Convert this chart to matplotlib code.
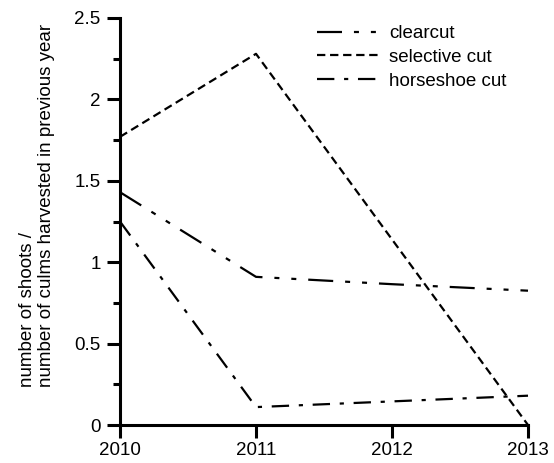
import matplotlib
matplotlib.use("Agg")
import matplotlib.pyplot as plt
from matplotlib.ticker import FixedLocator, FuncFormatter, MultipleLocator

plt.rcParams["font.family"] = ["Liberation Sans", "DejaVu Sans"]
plt.rcParams["lines.scale_dashes"] = False

years = [2010, 2011, 2012, 2013]
clearcut = [1.43, 0.91, 0.865, 0.825]
selective_cut = [1.77, 2.28, 1.14, 0.0]
horseshoe_cut = [1.25, 0.11, 0.145, 0.18]

fs = 13.5
fig = plt.figure(figsize=(5.54, 4.63), dpi=100)
ax = fig.add_axes([120 / 554, 1 - 425 / 463, 408 / 554, 407 / 463])

lw = 1.6
ax.plot(years, clearcut, color="black", lw=lw, dashes=(18, 8.6, 3.6, 8.6, 3.6, 8.6), label="clearcut")
ax.plot(years, selective_cut, color="black", lw=lw, dashes=(6, 3.4), label="selective cut")
ax.plot(years, horseshoe_cut, color="black", lw=lw, dashes=(12.5, 7, 3, 7), label="horseshoe cut")
for line in ax.get_lines():
    line.set_clip_on(False)

ax.set_xlim(2010, 2013)
ax.set_ylim(0, 2.5)
ax.xaxis.set_major_locator(FixedLocator(years))
ax.xaxis.set_major_formatter(FuncFormatter(lambda v, p: f"{v:.0f}"))
ax.yaxis.set_major_locator(MultipleLocator(0.5))
ax.yaxis.set_minor_locator(MultipleLocator(0.25))
ax.yaxis.set_major_formatter(FuncFormatter(lambda v, p: f"{v:g}"))

for side in ("top", "right"):
    ax.spines[side].set_visible(False)
for side in ("left", "bottom"):
    ax.spines[side].set_linewidth(2.2)
ax.tick_params(axis="both", which="major", direction="out", length=9.5, width=2.2, labelsize=fs)
ax.tick_params(axis="x", which="major", pad=3)
ax.tick_params(axis="y", which="major", pad=4.5)
ax.tick_params(axis="y", which="minor", direction="out", length=5, width=2.2)

fig.text(37 / 554, 1 - 205.5 / 463,
         "number of shoots /\nnumber of culms harvested in previous year",
         rotation=90, ha="center", va="center", multialignment="left",
         fontsize=fs, linespacing=1.15)

ax.legend(loc="upper left", bbox_to_anchor=(317 / 554, 1 - 25 / 463), bbox_transform=fig.transFigure,
          frameon=False, fontsize=fs, borderpad=0, borderaxespad=0,
          handlelength=3.25, handletextpad=0.6, labelspacing=0.35)

fig.savefig("out.png", dpi=100)
